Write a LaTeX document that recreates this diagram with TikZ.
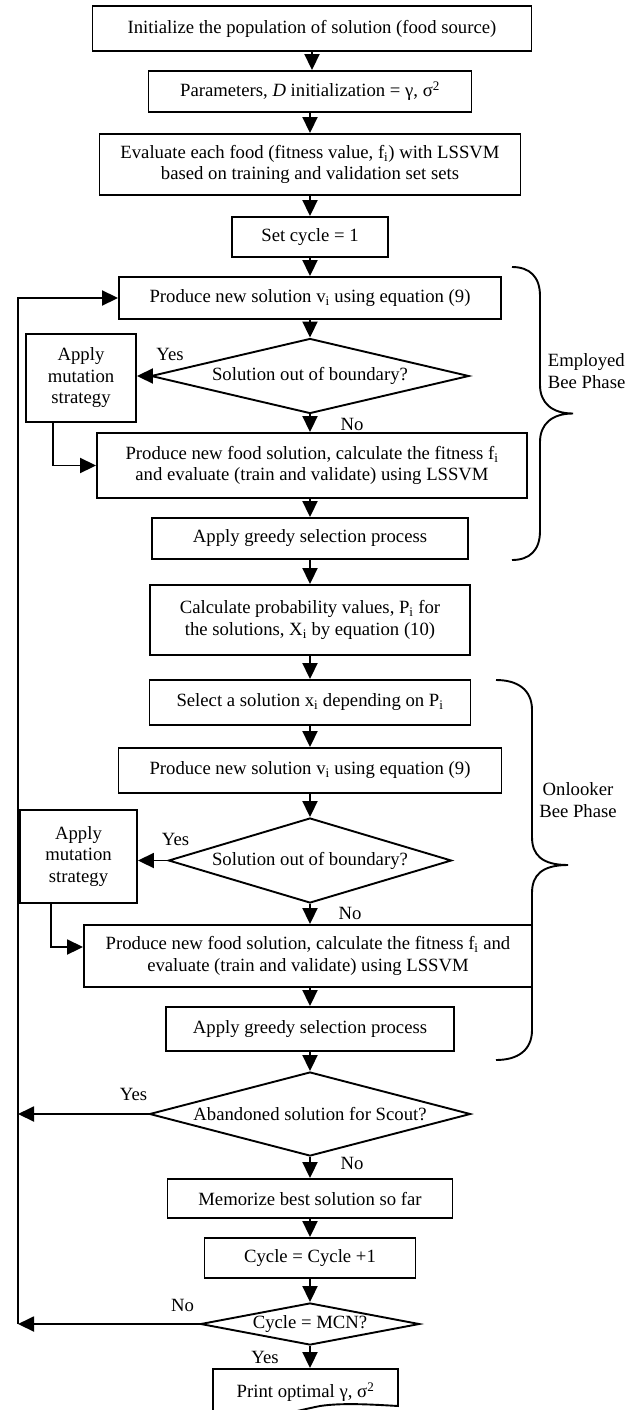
\documentclass[tikz,border=0pt]{standalone}
\usepackage{fontspec}
\setmainfont{Liberation Serif}
\usetikzlibrary{arrows.meta}
\usetikzlibrary{shapes.geometric}

\begin{document}
\begin{tikzpicture}[x=1pt, y=-1pt, line width=1.9pt,
    font=\fontsize{18.7}{21.5}\selectfont,
    box/.style={draw, rectangle, align=center, inner sep=2pt},
    decision/.style={draw, diamond, inner sep=0pt},
    arr/.style={-{Triangle[length=16pt, width=15pt]}},
    lbl/.style={inner sep=0pt}]
  \clip (0,0) rectangle (636,1410);
  \coordinate (loop) at (18, 0);

  \node[box, minimum width=439pt, minimum height=45pt] (init) at (312, 28.5) {Initialize the population of solution (food source)};
  \node[box, minimum width=323pt, minimum height=41pt] (params) at (310, 91.5) {Parameters, \textit{D} initialization = γ, σ\textsuperscript{2}};
  \node[box, minimum width=421pt, minimum height=61pt] (eval) at (310, 164.5) {Evaluate each food (fitness value, f\textsubscript{i}) with LSSVM\\based on training and validation set sets};
  \node[box, minimum width=156pt, minimum height=40pt] (setc) at (310, 237) {Set cycle = 1};

  \node[box, minimum width=382pt, minimum height=42pt] (p1) at (310, 298) {Produce new solution v\textsubscript{i} using equation (9)};
  \node[decision, aspect=4.24, minimum width=318pt, minimum height=75pt] (d1) at (310, 376) {Solution out of boundary?};
  \node[box, minimum width=110pt, minimum height=88pt] (mut1) at (81, 378) {Apply\\mutation\\strategy};
  \node[box, minimum width=430pt, minimum height=65pt] (food1) at (312, 465.5) {Produce new food solution, calculate the fitness f\textsubscript{i}\\and evaluate (train and validate) using LSSVM};
  \node[box, minimum width=316pt, minimum height=41pt] (greedy1) at (310, 538.5) {Apply greedy selection process};

  \node[box, minimum width=320pt, minimum height=70pt] (calc) at (310, 620) {Calculate probability values, P\textsubscript{i} for\\the solutions, X\textsubscript{i} by equation (10)};

  \node[box, minimum width=321pt, minimum height=45pt] (select) at (310, 702.5) {Select a solution x\textsubscript{i} depending on P\textsubscript{i}};
  \node[box, minimum width=383pt, minimum height=45pt] (p2) at (310, 770.5) {Produce new solution v\textsubscript{i} using equation (9)};
  \node[decision, aspect=3.33, minimum width=283pt, minimum height=85pt] (d2) at (310, 860.5) {Solution out of boundary?};
  \node[box, minimum width=117pt, minimum height=93pt] (mut2) at (78.5, 856.5) {Apply\\mutation\\strategy};
  \node[box, minimum width=448pt, minimum height=62pt] (food2) at (308, 956) {Produce new food solution, calculate the fitness f\textsubscript{i} and\\evaluate (train and validate) using LSSVM};
  \node[box, minimum width=288pt, minimum height=44pt] (greedy2) at (310, 1029) {Apply greedy selection process};

  \node[decision, aspect=3.8, minimum width=321pt, minimum height=84pt] (d3) at (310, 1114) {Abandoned solution for Scout?};
  \node[box, minimum width=285pt, minimum height=39pt] (mem) at (310, 1198.5) {Memorize best solution so far};
  \node[box, minimum width=211pt, minimum height=40pt] (cyc) at (310, 1258) {Cycle = Cycle +1};
  \node[decision, aspect=5.2, minimum width=219pt, minimum height=42pt] (d4) at (310, 1324) {Cycle = MCN?};
  \node[minimum width=185pt, minimum height=46pt, inner sep=0pt] (print) at (305.5, 1392) {Print optimal γ, σ\textsuperscript{2}};
  \draw (213,1369) -- (398,1369) -- (398,1406) .. controls (365,1404) and (340,1403) .. (320,1406) .. controls (290,1412) and (250,1424) .. (213,1420) -- cycle;

  \draw[arr] (init) -- (init |- params.north);
  \draw[arr] (params) -- (eval);
  \draw[arr] (eval) -- (setc);
  \draw[arr] (setc) -- (p1);
  \draw[arr] (p1) -- (d1);
  \draw[arr] (d1.west) -- (d1.west -| mut1.east);
  \draw[arr] (d1) -- (d1 |- food1.north);
  \draw[arr] ([xshift=-28pt]mut1.south) |- (food1.west);
  \draw[arr] (food1.south -| greedy1) -- (greedy1);
  \draw[arr] (greedy1) -- (calc);
  \draw[arr] (calc) -- (select);
  \draw[arr] (select) -- (p2);
  \draw[arr] (p2) -- (d2);
  \draw[arr] (d2.west) -- (d2.west -| mut2.east);
  \draw[arr] (d2) -- (d2 |- food2.north);
  \draw[arr] ([xshift=-27.5pt]mut2.south) |- ([yshift=9pt]food2.west);
  \draw[arr] (food2.south -| greedy2) -- (greedy2);
  \draw[arr] (greedy2) -- (d3);
  \draw[arr] (d3.west) -- (d3.west -| loop);
  \draw[arr] (d3) -- (mem);
  \draw[arr] (mem) -- (cyc);
  \draw[arr] (cyc) -- (d4);
  \draw[arr] (d4.west) -- (d4.west -| loop);
  \draw[arr] (d4.west -| loop) -- (p1.west -| loop) -- (p1.west);
  \draw[arr] (d4) -- (d4.south |- print.north);

  \node[lbl] (y1) at ([shift={(20,-22)}]d1.west) {Yes};
  \node[lbl] (n1) at ([shift={(42,10)}]d1.south) {No};
  \node[lbl] (y2) at ([shift={(8,-21)}]d2.west) {Yes};
  \node[lbl] (n2) at ([shift={(40,10)}]d2.south) {No};
  \node[lbl] (y3) at ([shift={(-15,-20)}]d3.west) {Yes};
  \node[lbl] (n3) at ([shift={(42,7)}]d3.south) {No};
  \node[lbl] (n4) at ([shift={(-17,-19)}]d4.west) {No};
  \node[lbl] (y4) at ([shift={(-45,12)}]d4.south) {Yes};

  \draw (512,267) .. controls (530,267) and (540,277) .. (540,296) -- (540,385) .. controls (540,403) and (552,413.5) .. (573,413.5) .. controls (552,413.5) and (540,424) .. (540,442) -- (540,531) .. controls (540,550) and (530,560) .. (512,560);
  \node[lbl, align=left, anchor=west] (emp) at (547, 371) {Employed\\Bee Phase};
  \draw (496,680) .. controls (518,680) and (532,690) .. (532,710) -- (532,837) .. controls (532,855) and (542,865) .. (568,865) .. controls (542,865) and (532,875) .. (532,893) -- (532,1030) .. controls (532,1050) and (518,1060) .. (496,1060);
  \node[lbl, align=center] (onl) at (578, 800) {Onlooker\\Bee Phase};
\end{tikzpicture}
\end{document}
